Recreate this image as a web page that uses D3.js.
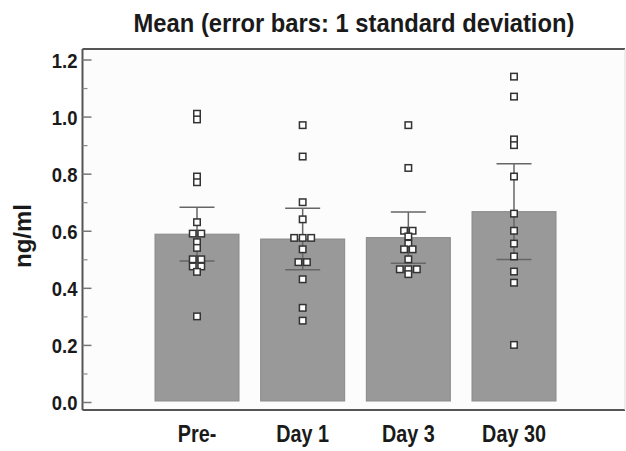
<!DOCTYPE html>
<html>
<head>
<meta charset="utf-8">
<script src="https://cdn.jsdelivr.net/npm/d3@7"></script>
<style>
  body { margin: 0; background: #fff; }
  svg { display: block; }
  text { font-family: "Liberation Sans", Arial, sans-serif; font-weight: bold; fill: #1a1a1a; }
</style>
</head>
<body>
<svg id="chart" width="626" height="451"></svg>
<script>
// values
const categories = ["Pre-", "Day 1", "Day 3", "Day 30"];
const means = [0.588, 0.571, 0.576, 0.667];
const sds = [0.094, 0.108, 0.090, 0.168];
const prePoints = [1.01, 0.99, 0.79, 0.77, 0.63, 0.59, 0.59, 0.56, 0.54, 0.50, 0.50, 0.475, 0.475, 0.456, 0.30];
const day1Points = [0.97, 0.86, 0.70, 0.64, 0.575, 0.575, 0.575, 0.535, 0.49, 0.49, 0.43, 0.33, 0.285];
const day3Points = [0.97, 0.82, 0.60, 0.60, 0.58, 0.555, 0.535, 0.535, 0.50, 0.465, 0.465, 0.465, 0.448];
const day30Points = [1.14, 1.07, 0.92, 0.90, 0.79, 0.66, 0.60, 0.555, 0.51, 0.457, 0.418, 0.20];
const pointSets = [prePoints, day1Points, day3Points, day30Points];
const yTicks = [0, 0.2, 0.4, 0.6, 0.8, 1.0, 1.2];
const yMinorTicks = [0.1, 0.3, 0.5, 0.7, 0.9, 1.1];
const titleText = "Mean (error bars: 1 standard deviation)";
const yLabel = "ng/ml";

const svg = d3.select("#chart");
const frame = { left: 82.5, top: 49, right: 625, bottom: 410 };

const y = d3.scaleLinear().domain([0, 1.2]).range([402, 59.5]);
const x = d3.scaleBand().domain(categories).range([155, 556]).paddingInner(0.205).paddingOuter(0);

// squeeze text a bit, the original face is condensed
function condense(sel, k) {
  sel.each(function() {
    const w = this.getComputedTextLength();
    d3.select(this).attr("textLength", w * k).attr("lengthAdjust", "spacingAndGlyphs");
  });
}

// plot area
svg.append("rect")
  .attr("x", frame.left).attr("y", frame.top)
  .attr("width", frame.right - frame.left).attr("height", frame.bottom - frame.top)
  .attr("fill", "#fcfcfc");

// bars
svg.selectAll(".bar")
  .data(categories)
  .enter()
  .append("rect")
  .attr("class", "bar")
  .attr("x", d => x(d))
  .attr("y", (d, i) => y(means[i]))
  .attr("width", x.bandwidth())
  .attr("height", (d, i) => y(0) - y(means[i]) - 1)
  .attr("fill", "#999")
  .attr("stroke", "#8a8a8a")
  .attr("stroke-width", 1);

// error bars
const capW = 35;
const err = svg.selectAll(".err")
  .data(categories)
  .enter()
  .append("g")
  .attr("class", "err")
  .attr("stroke", "#666")
  .attr("stroke-width", 1.5);

err.append("line")
  .attr("x1", d => x(d) + x.bandwidth() / 2)
  .attr("x2", d => x(d) + x.bandwidth() / 2)
  .attr("y1", (d, i) => y(means[i] - sds[i]))
  .attr("y2", (d, i) => y(means[i] + sds[i]));
err.append("line")
  .attr("x1", d => x(d) + x.bandwidth() / 2 - capW / 2)
  .attr("x2", d => x(d) + x.bandwidth() / 2 + capW / 2)
  .attr("y1", (d, i) => y(means[i] + sds[i]))
  .attr("y2", (d, i) => y(means[i] + sds[i]));
err.append("line")
  .attr("x1", d => x(d) + x.bandwidth() / 2 - capW / 2)
  .attr("x2", d => x(d) + x.bandwidth() / 2 + capW / 2)
  .attr("y1", (d, i) => y(means[i] - sds[i]))
  .attr("y2", (d, i) => y(means[i] - sds[i]));

// individual points, equal values spread side by side
const points = [];
pointSets.forEach((vals, i) => {
  const sorted = vals.slice().sort((a, b) => b - a);
  let group = [];
  const flush = () => {
    group.forEach((v, j) => {
      points.push({ cat: categories[i], value: v, off: (j - (group.length - 1) / 2) * 8.5 });
    });
    group = [];
  };
  sorted.forEach(v => {
    if (group.length && Math.abs(group[group.length - 1] - v) > 0.012) flush();
    group.push(v);
  });
  flush();
});

const sq = 6.5;
svg.selectAll(".pt")
  .data(points)
  .enter()
  .append("rect")
  .attr("class", "pt")
  .attr("x", d => x(d.cat) + x.bandwidth() / 2 + d.off - sq / 2)
  .attr("y", d => y(d.value) - sq / 2)
  .attr("width", sq)
  .attr("height", sq)
  .attr("fill", "#fff")
  .attr("stroke", "#333")
  .attr("stroke-width", 1.5);

// frame lines
svg.append("line")
  .attr("x1", frame.left).attr("x2", frame.right)
  .attr("y1", frame.top).attr("y2", frame.top)
  .attr("stroke", "#555").attr("stroke-width", 2);
svg.append("line")
  .attr("x1", frame.left).attr("x2", frame.right)
  .attr("y1", frame.bottom).attr("y2", frame.bottom)
  .attr("stroke", "#555").attr("stroke-width", 2);
svg.append("line")
  .attr("x1", frame.right).attr("x2", frame.right)
  .attr("y1", frame.top).attr("y2", frame.bottom)
  .attr("stroke", "#ddd").attr("stroke-width", 1);

// y axis
const yAxis = svg.append("g")
  .attr("transform", `translate(${frame.left},0)`)
  .call(d3.axisLeft(y).tickValues(yTicks).tickFormat(d3.format(".1f")).tickSize(-9).tickPadding(5));
yAxis.select(".domain").attr("d", `M0,${frame.top}V${frame.bottom}`).attr("stroke", "#555").attr("stroke-width", 2);
yAxis.selectAll(".tick line").attr("stroke", "#777").attr("stroke-width", 1.5);
yAxis.selectAll(".tick text")
  .attr("fill", "#1a1a1a")
  .style("font-size", "21px")
  .attr("dy", "0.36em")
  .call(condense, 0.88);
yAxis.attr("font-family", null).attr("font-size", null);

svg.append("g")
  .attr("transform", `translate(${frame.left},0)`)
  .call(d3.axisLeft(y).tickValues(yMinorTicks).tickSize(-5).tickFormat(""))
  .call(g => g.select(".domain").remove())
  .selectAll(".tick line").attr("stroke", "#888").attr("stroke-width", 1.2);

// category labels
svg.selectAll(".cat")
  .data(categories)
  .enter()
  .append("text")
  .attr("class", "cat")
  .attr("x", d => x(d) + x.bandwidth() / 2)
  .attr("y", 442)
  .attr("text-anchor", "middle")
  .style("font-size", "23px")
  .text(d => d)
  .call(condense, 0.86);

// title
svg.append("text")
  .attr("x", 354)
  .attr("y", 32)
  .attr("text-anchor", "middle")
  .style("font-size", "25px")
  .text(titleText)
  .call(condense, 0.95);

// y label
svg.append("text")
  .attr("transform", "translate(31,236) rotate(-90)")
  .attr("text-anchor", "middle")
  .style("font-size", "24px")
  .text(yLabel)
  .call(condense, 1.0);
</script>
</body>
</html>
